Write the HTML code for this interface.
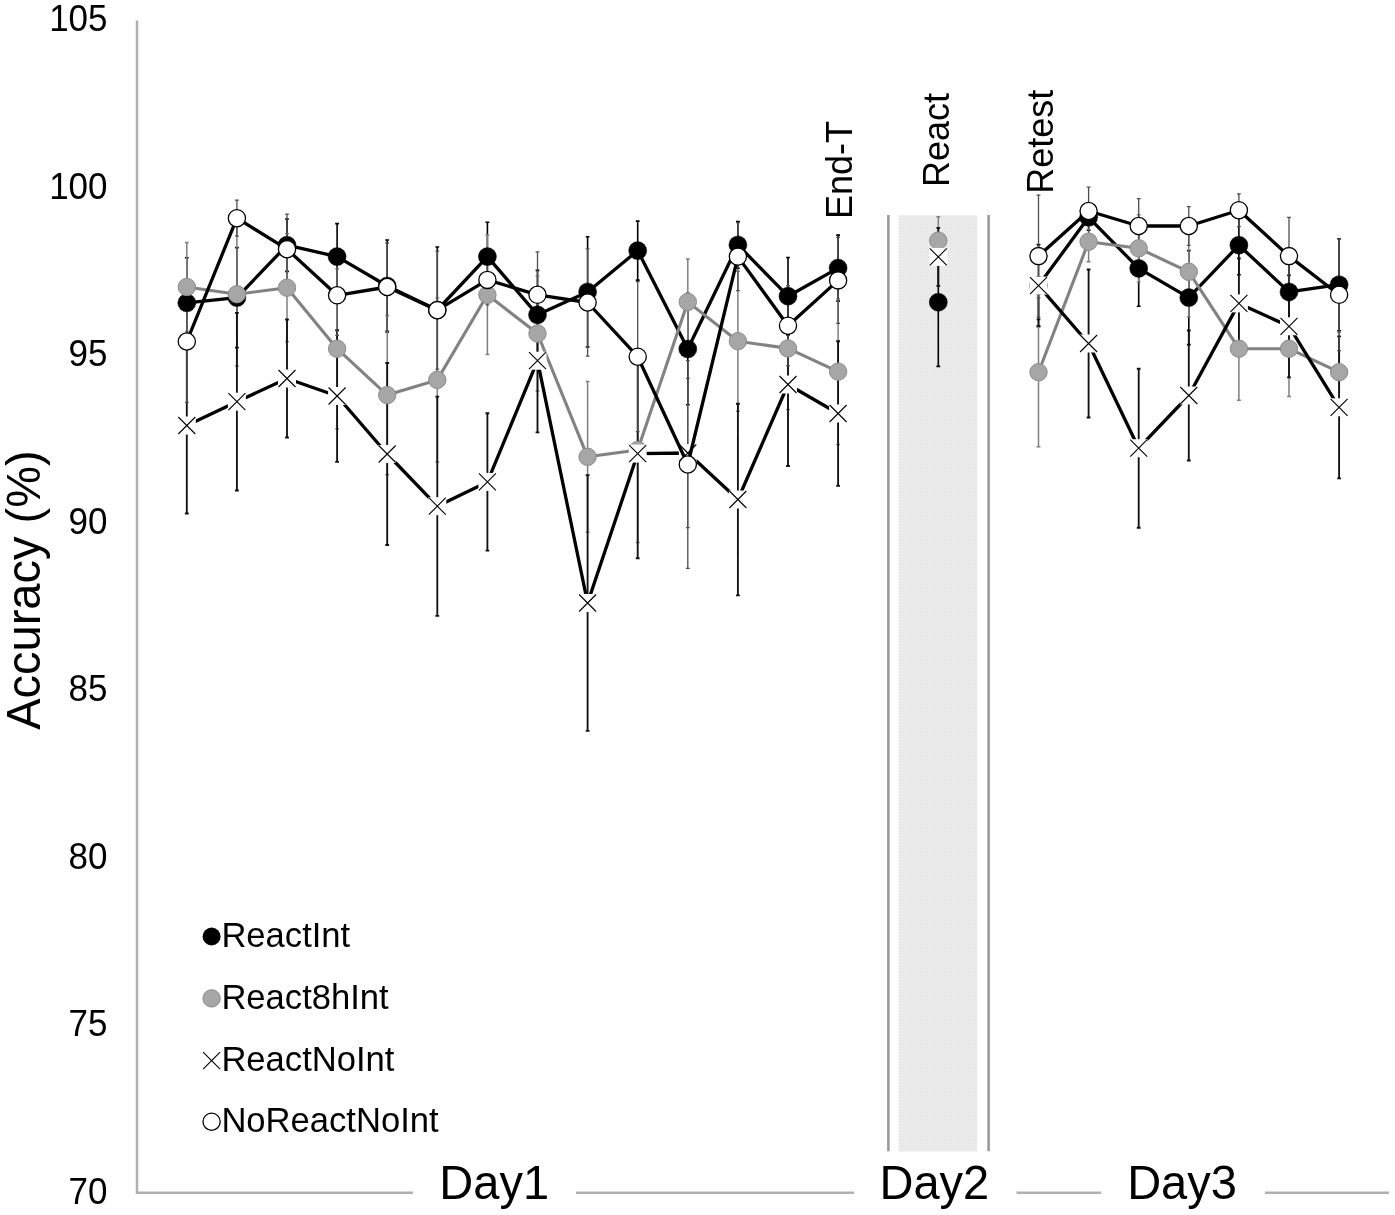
<!DOCTYPE html>
<html><head><meta charset="utf-8"><title>Accuracy chart</title>
<style>html,body{margin:0;padding:0;background:#fff}svg{display:block;filter:grayscale(1)}text{font-family:"Liberation Sans",sans-serif;fill:#000}</style>
</head><body>
<svg width="1395" height="1215" viewBox="0 0 1395 1215">
<defs><pattern id="hat" width="3" height="3" patternUnits="userSpaceOnUse"><rect width="3" height="3" fill="#efefef"/><path d="M0 3L3 0M0 0L3 3" stroke="#e3e3e3" stroke-width="0.7"/></pattern></defs>
<rect width="1395" height="1215" fill="#fff"/>
<path d="M137 20.4V1192.8" stroke="#b0b0b0" stroke-width="2.5" fill="none"/>
<path d="M135.8 1192.8H413M576 1192.8H854M1016.5 1192.8H1101.3M1265 1192.8H1389" stroke="#b0b0b0" stroke-width="2.5" fill="none"/>
<rect x="898.6" y="215.3" width="78.6" height="936.2" fill="url(#hat)"/>
<path d="M888.4 215V1151.3M988.6 215V1151.3" stroke="#9a9a9a" stroke-width="2.6" fill="none"/>
<text transform="translate(107.5 31.3) scale(1 1.04)" font-size="35" text-anchor="end">105</text>
<text transform="translate(107.5 198.8) scale(1 1.04)" font-size="35" text-anchor="end">100</text>
<text transform="translate(107.5 366.2) scale(1 1.04)" font-size="35" text-anchor="end">95</text>
<text transform="translate(107.5 533.7) scale(1 1.04)" font-size="35" text-anchor="end">90</text>
<text transform="translate(107.5 701.1) scale(1 1.04)" font-size="35" text-anchor="end">85</text>
<text transform="translate(107.5 868.6) scale(1 1.04)" font-size="35" text-anchor="end">80</text>
<text transform="translate(107.5 1036.0) scale(1 1.04)" font-size="35" text-anchor="end">75</text>
<text transform="translate(107.5 1203.5) scale(1 1.04)" font-size="35" text-anchor="end">70</text>
<text transform="translate(40.1 729.8) rotate(-90) scale(1 1.04)" font-size="47" text-anchor="start">Accuracy (%)</text>
<text transform="translate(851.9 219.0) rotate(-90) scale(1 1.04)" font-size="36" text-anchor="start">End-T</text>
<text transform="translate(948.7 187.0) rotate(-90) scale(1 1.04)" font-size="36" text-anchor="start">React</text>
<text transform="translate(1052.8 193.8) rotate(-90) scale(1 1.04)" font-size="36" text-anchor="start">Retest</text>
<text transform="translate(494.2 1198.6) scale(1 1.04)" font-size="47" text-anchor="middle">Day1</text>
<text transform="translate(934.4 1198.6) scale(1 1.04)" font-size="47" text-anchor="middle">Day2</text>
<text transform="translate(1182.0 1198.6) scale(1 1.04)" font-size="47" text-anchor="middle">Day3</text>
<path d="M186.8 257.8V347.8M184.9 257.8h3.8M184.9 347.8h3.8M236.9 247.6V347.6M235.0 247.6h3.8M235.0 347.6h3.8M287.0 219.0V271.4M285.1 219.0h3.8M285.1 271.4h3.8M337.1 223.6V289.6M335.2 223.6h3.8M335.2 289.6h3.8M387.2 240.0V332.0M385.3 240.0h3.8M385.3 332.0h3.8M437.3 247.0V373.0M435.4 247.0h3.8M435.4 373.0h3.8M487.4 222.2V291.0M485.5 222.2h3.8M485.5 291.0h3.8M537.5 270.4V359.2M535.6 270.4h3.8M535.6 359.2h3.8M587.6 236.8V347.0M585.7 236.8h3.8M585.7 347.0h3.8M637.7 221.1V280.1M635.8 221.1h3.8M635.8 280.1h3.8M687.8 293.3V404.7M685.9 293.3h3.8M685.9 404.7h3.8M737.9 221.6V268.2M736.0 221.6h3.8M736.0 268.2h3.8M788.0 257.5V334.9M786.1 257.5h3.8M786.1 334.9h3.8M838.1 235.1V301.1M836.2 235.1h3.8M836.2 301.1h3.8M938.3 238.0V366.4M936.4 238.0h3.8M936.4 366.4h3.8M1038.5 244.6V326.6M1036.6 244.6h3.8M1036.6 326.6h3.8M1088.6 204.3V230.3M1086.7 204.3h3.8M1086.7 230.3h3.8M1138.7 230.6V306.2M1136.8 230.6h3.8M1136.8 306.2h3.8M1188.8 250.6V344.6M1186.9 250.6h3.8M1186.9 344.6h3.8M1238.9 215.7V274.7M1237.0 215.7h3.8M1237.0 274.7h3.8M1289.0 256.9V326.9M1287.1 256.9h3.8M1287.1 326.9h3.8M1339.1 238.7V330.7M1337.2 238.7h3.8M1337.2 330.7h3.8" stroke="#000" stroke-width="1.6" fill="none"/>
<path d="M186.8 242.6V331.4M184.9 242.6h3.8M184.9 331.4h3.8M236.9 222.5V365.9M235.0 222.5h3.8M235.0 365.9h3.8M287.0 233.7V341.7M285.1 233.7h3.8M285.1 341.7h3.8M337.1 268.7V428.7M335.2 268.7h3.8M335.2 428.7h3.8M387.2 315.5V474.7M385.3 315.5h3.8M385.3 474.7h3.8M437.3 297.9V461.9M435.4 297.9h3.8M435.4 461.9h3.8M487.4 235.1V354.5M485.5 235.1h3.8M485.5 354.5h3.8M537.5 276.1V390.9M535.6 276.1h3.8M535.6 390.9h3.8M587.6 381.4V532.2M585.7 381.4h3.8M585.7 532.2h3.8M637.7 357.5V542.5M635.8 357.5h3.8M635.8 542.5h3.8M687.8 258.9V344.9M685.9 258.9h3.8M685.9 344.9h3.8M737.9 271.2V411.2M736.0 271.2h3.8M736.0 411.2h3.8M788.0 287.4V409.4M786.1 287.4h3.8M786.1 409.4h3.8M838.1 298.8V444.4M836.2 298.8h3.8M836.2 444.4h3.8M938.3 216.7V264.5M936.4 216.7h3.8M936.4 264.5h3.8M1038.5 297.7V446.7M1036.6 297.7h3.8M1036.6 446.7h3.8M1088.6 221.7V261.7M1086.7 221.7h3.8M1086.7 261.7h3.8M1138.7 214.7V281.9M1136.8 214.7h3.8M1136.8 281.9h3.8M1188.8 226.8V316.8M1186.9 226.8h3.8M1186.9 316.8h3.8M1238.9 297.1V400.3M1237.0 297.1h3.8M1237.0 400.3h3.8M1289.0 300.8V396.6M1287.1 300.8h3.8M1287.1 396.6h3.8M1339.1 332.2V412.2M1337.2 332.2h3.8M1337.2 412.2h3.8" stroke="#7f7f7f" stroke-width="1.5" fill="none"/>
<path d="M186.8 337.5V513.5M184.9 337.5h3.8M184.9 513.5h3.8M236.9 312.9V490.5M235.0 312.9h3.8M235.0 490.5h3.8M287.0 319.5V437.5M285.1 319.5h3.8M285.1 437.5h3.8M337.1 330.2V461.8M335.2 330.2h3.8M335.2 461.8h3.8M387.2 363.0V545.0M385.3 363.0h3.8M385.3 545.0h3.8M437.3 396.6V615.8M435.4 396.6h3.8M435.4 615.8h3.8M487.4 413.2V550.6M485.5 413.2h3.8M485.5 550.6h3.8M537.5 289.0V432.4M535.6 289.0h3.8M535.6 432.4h3.8M587.6 475.1V730.9M585.7 475.1h3.8M585.7 730.9h3.8M637.7 349.0V558.2M635.8 349.0h3.8M635.8 558.2h3.8M737.9 403.7V595.3M736.0 403.7h3.8M736.0 595.3h3.8M788.0 303.0V466.0M786.1 303.0h3.8M786.1 466.0h3.8M838.1 341.2V485.8M836.2 341.2h3.8M836.2 485.8h3.8M938.3 227.9V285.9M936.4 227.9h3.8M936.4 285.9h3.8M1038.5 277.6V293.6M1036.6 277.6h3.8M1036.6 293.6h3.8M1088.6 269.5V417.5M1086.7 269.5h3.8M1086.7 417.5h3.8M1138.7 368.7V527.7M1136.8 368.7h3.8M1136.8 527.7h3.8M1188.8 330.5V460.5M1186.9 330.5h3.8M1186.9 460.5h3.8M1238.9 258.4V348.4M1237.0 258.4h3.8M1237.0 348.4h3.8M1289.0 275.3V377.3M1287.1 275.3h3.8M1287.1 377.3h3.8M1339.1 336.3V478.3M1337.2 336.3h3.8M1337.2 478.3h3.8" stroke="#111" stroke-width="1.85" fill="none"/>
<path d="M687.8 378.4V527.6M685.9 378.4h3.8M685.9 527.6h3.8" stroke="#555" stroke-width="1.1" fill="none"/>
<path d="M1038.5 294V325.8M1036.6 319.6h3.8M1036.6 325.8h3.8" stroke="#111" stroke-width="1.5" fill="none"/>
<path d="M186.8 280.7V402.3M184.9 280.7h3.8M184.9 402.3h3.8M236.9 200.2V236.2M235.0 200.2h3.8M235.0 236.2h3.8M287.0 214.2V284.2M285.1 214.2h3.8M285.1 284.2h3.8M337.1 255.3V335.3M335.2 255.3h3.8M335.2 335.3h3.8M387.2 243.0V331.0M385.3 243.0h3.8M385.3 331.0h3.8M437.3 251.2V369.2M435.4 251.2h3.8M435.4 369.2h3.8M487.4 254.9V304.9M485.5 254.9h3.8M485.5 304.9h3.8M537.5 251.8V337.8M535.6 251.8h3.8M535.6 337.8h3.8M587.6 248.9V356.1M585.7 248.9h3.8M585.7 356.1h3.8M637.7 281.7V431.7M635.8 281.7h3.8M635.8 431.7h3.8M687.8 360.7V568.3M685.9 360.7h3.8M685.9 568.3h3.8M737.9 222.6V290.6M736.0 222.6h3.8M736.0 290.6h3.8M788.0 285.7V365.7M786.1 285.7h3.8M786.1 365.7h3.8M838.1 237.4V323.4M836.2 237.4h3.8M836.2 323.4h3.8M1038.5 195.1V317.1M1036.6 195.1h3.8M1036.6 317.1h3.8M1088.6 187.2V234.8M1086.7 187.2h3.8M1086.7 234.8h3.8M1138.7 198.7V253.3M1136.8 198.7h3.8M1136.8 253.3h3.8M1188.8 206.7V245.3M1186.9 206.7h3.8M1186.9 245.3h3.8M1238.9 193.8V226.6M1237.0 193.8h3.8M1237.0 226.6h3.8M1289.0 217.3V294.9M1287.1 217.3h3.8M1287.1 294.9h3.8M1339.1 238.9V350.7M1337.2 238.9h3.8M1337.2 350.7h3.8" stroke="#4e4e4e" stroke-width="1.3" fill="none"/>
<polyline points="186.8,302.8 236.9,297.6 287.0,245.2 337.1,256.6 387.2,286.0 437.3,310.0 487.4,256.6 537.5,314.8 587.6,291.9 637.7,250.6 687.8,349.0 737.9,244.9 788.0,296.2 838.1,268.1" fill="none" stroke="#000" stroke-width="3.3" stroke-linejoin="round"/><polyline points="1038.5,285.6 1088.6,217.3 1138.7,268.4 1188.8,297.6 1238.9,245.2 1289.0,291.9 1339.1,284.7" fill="none" stroke="#000" stroke-width="3.3" stroke-linejoin="round"/>
<circle cx="186.8" cy="302.8" r="9" fill="#000" stroke="#000" stroke-width="0.5"/><circle cx="236.9" cy="297.6" r="9" fill="#000" stroke="#000" stroke-width="0.5"/><circle cx="287.0" cy="245.2" r="9" fill="#000" stroke="#000" stroke-width="0.5"/><circle cx="337.1" cy="256.6" r="9" fill="#000" stroke="#000" stroke-width="0.5"/><circle cx="387.2" cy="286.0" r="9" fill="#000" stroke="#000" stroke-width="0.5"/><circle cx="437.3" cy="310.0" r="9" fill="#000" stroke="#000" stroke-width="0.5"/><circle cx="487.4" cy="256.6" r="9" fill="#000" stroke="#000" stroke-width="0.5"/><circle cx="537.5" cy="314.8" r="9" fill="#000" stroke="#000" stroke-width="0.5"/><circle cx="587.6" cy="291.9" r="9" fill="#000" stroke="#000" stroke-width="0.5"/><circle cx="637.7" cy="250.6" r="9" fill="#000" stroke="#000" stroke-width="0.5"/><circle cx="687.8" cy="349.0" r="9" fill="#000" stroke="#000" stroke-width="0.5"/><circle cx="737.9" cy="244.9" r="9" fill="#000" stroke="#000" stroke-width="0.5"/><circle cx="788.0" cy="296.2" r="9" fill="#000" stroke="#000" stroke-width="0.5"/><circle cx="838.1" cy="268.1" r="9" fill="#000" stroke="#000" stroke-width="0.5"/><circle cx="938.3" cy="302.2" r="9" fill="#000" stroke="#000" stroke-width="0.5"/><circle cx="1038.5" cy="285.6" r="9" fill="#000" stroke="#000" stroke-width="0.5"/><circle cx="1088.6" cy="217.3" r="9" fill="#000" stroke="#000" stroke-width="0.5"/><circle cx="1138.7" cy="268.4" r="9" fill="#000" stroke="#000" stroke-width="0.5"/><circle cx="1188.8" cy="297.6" r="9" fill="#000" stroke="#000" stroke-width="0.5"/><circle cx="1238.9" cy="245.2" r="9" fill="#000" stroke="#000" stroke-width="0.5"/><circle cx="1289.0" cy="291.9" r="9" fill="#000" stroke="#000" stroke-width="0.5"/><circle cx="1339.1" cy="284.7" r="9" fill="#000" stroke="#000" stroke-width="0.5"/>
<polyline points="186.8,287.0 236.9,294.2 287.0,287.7 337.1,348.7 387.2,395.1 437.3,379.9 487.4,294.8 537.5,333.5 587.6,456.8 637.7,450.0 687.8,301.9 737.9,341.2 788.0,348.4 838.1,371.6" fill="none" stroke="#828282" stroke-width="3.1" stroke-linejoin="round"/><polyline points="1038.5,372.2 1088.6,241.7 1138.7,248.3 1188.8,271.8 1238.9,348.7 1289.0,348.7 1339.1,372.2" fill="none" stroke="#828282" stroke-width="3.1" stroke-linejoin="round"/>
<circle cx="186.8" cy="287.0" r="8.7" fill="#a6a6a6" stroke="#8c8c8c" stroke-width="1"/><circle cx="236.9" cy="294.2" r="8.7" fill="#a6a6a6" stroke="#8c8c8c" stroke-width="1"/><circle cx="287.0" cy="287.7" r="8.7" fill="#a6a6a6" stroke="#8c8c8c" stroke-width="1"/><circle cx="337.1" cy="348.7" r="8.7" fill="#a6a6a6" stroke="#8c8c8c" stroke-width="1"/><circle cx="387.2" cy="395.1" r="8.7" fill="#a6a6a6" stroke="#8c8c8c" stroke-width="1"/><circle cx="437.3" cy="379.9" r="8.7" fill="#a6a6a6" stroke="#8c8c8c" stroke-width="1"/><circle cx="487.4" cy="294.8" r="8.7" fill="#a6a6a6" stroke="#8c8c8c" stroke-width="1"/><circle cx="537.5" cy="333.5" r="8.7" fill="#a6a6a6" stroke="#8c8c8c" stroke-width="1"/><circle cx="587.6" cy="456.8" r="8.7" fill="#a6a6a6" stroke="#8c8c8c" stroke-width="1"/><circle cx="637.7" cy="450.0" r="8.7" fill="#a6a6a6" stroke="#8c8c8c" stroke-width="1"/><circle cx="687.8" cy="301.9" r="8.7" fill="#a6a6a6" stroke="#8c8c8c" stroke-width="1"/><circle cx="737.9" cy="341.2" r="8.7" fill="#a6a6a6" stroke="#8c8c8c" stroke-width="1"/><circle cx="788.0" cy="348.4" r="8.7" fill="#a6a6a6" stroke="#8c8c8c" stroke-width="1"/><circle cx="838.1" cy="371.6" r="8.7" fill="#a6a6a6" stroke="#8c8c8c" stroke-width="1"/><circle cx="938.3" cy="240.6" r="8.7" fill="#a6a6a6" stroke="#8c8c8c" stroke-width="1"/><circle cx="1038.5" cy="372.2" r="8.7" fill="#a6a6a6" stroke="#8c8c8c" stroke-width="1"/><circle cx="1088.6" cy="241.7" r="8.7" fill="#a6a6a6" stroke="#8c8c8c" stroke-width="1"/><circle cx="1138.7" cy="248.3" r="8.7" fill="#a6a6a6" stroke="#8c8c8c" stroke-width="1"/><circle cx="1188.8" cy="271.8" r="8.7" fill="#a6a6a6" stroke="#8c8c8c" stroke-width="1"/><circle cx="1238.9" cy="348.7" r="8.7" fill="#a6a6a6" stroke="#8c8c8c" stroke-width="1"/><circle cx="1289.0" cy="348.7" r="8.7" fill="#a6a6a6" stroke="#8c8c8c" stroke-width="1"/><circle cx="1339.1" cy="372.2" r="8.7" fill="#a6a6a6" stroke="#8c8c8c" stroke-width="1"/>
<polyline points="186.8,425.5 236.9,401.7 287.0,378.5 337.1,396.0 387.2,454.0 437.3,506.2 487.4,481.9 537.5,360.7 587.6,603.0 637.7,453.6 687.8,453.0 737.9,499.5 788.0,384.5 838.1,413.5" fill="none" stroke="#000" stroke-width="3.3" stroke-linejoin="round"/><polyline points="1038.5,285.6 1088.6,343.5 1138.7,448.2 1188.8,395.5 1238.9,303.4 1289.0,326.3 1339.1,407.3" fill="none" stroke="#000" stroke-width="3.3" stroke-linejoin="round"/>
<rect x="177.8" y="416.5" width="18" height="18" fill="#fff"/><path d="M178.3 417.0l17.0 17.0M178.3 434.0l17.0 -17.0" stroke="#000" stroke-width="1.1" fill="none"/><rect x="227.9" y="392.7" width="18" height="18" fill="#fff"/><path d="M228.4 393.2l17.0 17.0M228.4 410.2l17.0 -17.0" stroke="#000" stroke-width="1.1" fill="none"/><rect x="278.0" y="369.5" width="18" height="18" fill="#fff"/><path d="M278.5 370.0l17.0 17.0M278.5 387.0l17.0 -17.0" stroke="#000" stroke-width="1.1" fill="none"/><rect x="328.1" y="387.0" width="18" height="18" fill="#fff"/><path d="M328.6 387.5l17.0 17.0M328.6 404.5l17.0 -17.0" stroke="#000" stroke-width="1.1" fill="none"/><rect x="378.2" y="445.0" width="18" height="18" fill="#fff"/><path d="M378.7 445.5l17.0 17.0M378.7 462.5l17.0 -17.0" stroke="#000" stroke-width="1.1" fill="none"/><rect x="428.3" y="497.2" width="18" height="18" fill="#fff"/><path d="M428.8 497.7l17.0 17.0M428.8 514.7l17.0 -17.0" stroke="#000" stroke-width="1.1" fill="none"/><rect x="478.4" y="472.9" width="18" height="18" fill="#fff"/><path d="M478.9 473.4l17.0 17.0M478.9 490.4l17.0 -17.0" stroke="#000" stroke-width="1.1" fill="none"/><rect x="528.5" y="351.7" width="18" height="18" fill="#fff"/><path d="M529.0 352.2l17.0 17.0M529.0 369.2l17.0 -17.0" stroke="#000" stroke-width="1.1" fill="none"/><rect x="578.6" y="594.0" width="18" height="18" fill="#fff"/><path d="M579.1 594.5l17.0 17.0M579.1 611.5l17.0 -17.0" stroke="#000" stroke-width="1.1" fill="none"/><rect x="628.7" y="444.6" width="18" height="18" fill="#fff"/><path d="M629.2 445.1l17.0 17.0M629.2 462.1l17.0 -17.0" stroke="#000" stroke-width="1.1" fill="none"/><rect x="678.8" y="444.0" width="18" height="18" fill="#fff"/><path d="M679.3 444.5l17.0 17.0M679.3 461.5l17.0 -17.0" stroke="#000" stroke-width="1.1" fill="none"/><rect x="728.9" y="490.5" width="18" height="18" fill="#fff"/><path d="M729.4 491.0l17.0 17.0M729.4 508.0l17.0 -17.0" stroke="#000" stroke-width="1.1" fill="none"/><rect x="779.0" y="375.5" width="18" height="18" fill="#fff"/><path d="M779.5 376.0l17.0 17.0M779.5 393.0l17.0 -17.0" stroke="#000" stroke-width="1.1" fill="none"/><rect x="829.1" y="404.5" width="18" height="18" fill="#fff"/><path d="M829.6 405.0l17.0 17.0M829.6 422.0l17.0 -17.0" stroke="#000" stroke-width="1.1" fill="none"/><rect x="929.3" y="247.9" width="18" height="18" fill="#fff"/><path d="M929.8 248.4l17.0 17.0M929.8 265.4l17.0 -17.0" stroke="#000" stroke-width="1.1" fill="none"/><rect x="1029.5" y="276.6" width="18" height="18" fill="#fff"/><path d="M1030.0 277.1l17.0 17.0M1030.0 294.1l17.0 -17.0" stroke="#000" stroke-width="1.1" fill="none"/><rect x="1079.6" y="334.5" width="18" height="18" fill="#fff"/><path d="M1080.1 335.0l17.0 17.0M1080.1 352.0l17.0 -17.0" stroke="#000" stroke-width="1.1" fill="none"/><rect x="1129.7" y="439.2" width="18" height="18" fill="#fff"/><path d="M1130.2 439.7l17.0 17.0M1130.2 456.7l17.0 -17.0" stroke="#000" stroke-width="1.1" fill="none"/><rect x="1179.8" y="386.5" width="18" height="18" fill="#fff"/><path d="M1180.3 387.0l17.0 17.0M1180.3 404.0l17.0 -17.0" stroke="#000" stroke-width="1.1" fill="none"/><rect x="1229.9" y="294.4" width="18" height="18" fill="#fff"/><path d="M1230.4 294.9l17.0 17.0M1230.4 311.9l17.0 -17.0" stroke="#000" stroke-width="1.1" fill="none"/><rect x="1280.0" y="317.3" width="18" height="18" fill="#fff"/><path d="M1280.5 317.8l17.0 17.0M1280.5 334.8l17.0 -17.0" stroke="#000" stroke-width="1.1" fill="none"/><rect x="1330.1" y="398.3" width="18" height="18" fill="#fff"/><path d="M1330.6 398.8l17.0 17.0M1330.6 415.8l17.0 -17.0" stroke="#000" stroke-width="1.1" fill="none"/>
<polyline points="186.8,341.5 236.9,218.2 287.0,249.2 337.1,295.3 387.2,287.0 437.3,310.2 487.4,279.9 537.5,294.8 587.6,302.5 637.7,356.7 687.8,464.5 737.9,256.6 788.0,325.7 838.1,280.4" fill="none" stroke="#000" stroke-width="3.3" stroke-linejoin="round"/><polyline points="1038.5,256.1 1088.6,211.0 1138.7,226.0 1188.8,226.0 1238.9,210.2 1289.0,256.1 1339.1,294.8" fill="none" stroke="#000" stroke-width="3.3" stroke-linejoin="round"/>
<circle cx="186.8" cy="341.5" r="8.6" fill="#fff" stroke="#000" stroke-width="1.3"/><circle cx="236.9" cy="218.2" r="8.6" fill="#fff" stroke="#000" stroke-width="1.3"/><circle cx="287.0" cy="249.2" r="8.6" fill="#fff" stroke="#000" stroke-width="1.3"/><circle cx="337.1" cy="295.3" r="8.6" fill="#fff" stroke="#000" stroke-width="1.3"/><circle cx="387.2" cy="287.0" r="8.6" fill="#fff" stroke="#000" stroke-width="1.3"/><circle cx="437.3" cy="310.2" r="8.6" fill="#fff" stroke="#000" stroke-width="1.3"/><circle cx="487.4" cy="279.9" r="8.6" fill="#fff" stroke="#000" stroke-width="1.3"/><circle cx="537.5" cy="294.8" r="8.6" fill="#fff" stroke="#000" stroke-width="1.3"/><circle cx="587.6" cy="302.5" r="8.6" fill="#fff" stroke="#000" stroke-width="1.3"/><circle cx="637.7" cy="356.7" r="8.6" fill="#fff" stroke="#000" stroke-width="1.3"/><circle cx="687.8" cy="464.5" r="8.6" fill="#fff" stroke="#000" stroke-width="1.3"/><circle cx="737.9" cy="256.6" r="8.6" fill="#fff" stroke="#000" stroke-width="1.3"/><circle cx="788.0" cy="325.7" r="8.6" fill="#fff" stroke="#000" stroke-width="1.3"/><circle cx="838.1" cy="280.4" r="8.6" fill="#fff" stroke="#000" stroke-width="1.3"/><circle cx="1038.5" cy="256.1" r="8.6" fill="#fff" stroke="#000" stroke-width="1.3"/><circle cx="1088.6" cy="211.0" r="8.6" fill="#fff" stroke="#000" stroke-width="1.3"/><circle cx="1138.7" cy="226.0" r="8.6" fill="#fff" stroke="#000" stroke-width="1.3"/><circle cx="1188.8" cy="226.0" r="8.6" fill="#fff" stroke="#000" stroke-width="1.3"/><circle cx="1238.9" cy="210.2" r="8.6" fill="#fff" stroke="#000" stroke-width="1.3"/><circle cx="1289.0" cy="256.1" r="8.6" fill="#fff" stroke="#000" stroke-width="1.3"/><circle cx="1339.1" cy="294.8" r="8.6" fill="#fff" stroke="#000" stroke-width="1.3"/>
<circle cx="211.6" cy="936.5" r="9" fill="#000"/>
<text transform="translate(221.4 947.0) scale(1 1.04)" font-size="34.6" text-anchor="start">ReactInt</text>
<circle cx="211.6" cy="998.4" r="8.7" fill="#a6a6a6" stroke="#8c8c8c" stroke-width="1"/>
<text transform="translate(221.4 1008.9) scale(1 1.04)" font-size="34.6" text-anchor="start">React8hInt</text>
<path d="M203.1 1052.1l17 17M203.1 1069.1l17 -17" stroke="#000" stroke-width="1.1" fill="none"/>
<text transform="translate(221.4 1071.1) scale(1 1.04)" font-size="34.6" text-anchor="start">ReactNoInt</text>
<circle cx="211.6" cy="1121.7" r="8.6" fill="#fff" stroke="#000" stroke-width="1.3"/>
<text transform="translate(221.4 1132.2) scale(1 1.04)" font-size="34.6" text-anchor="start">NoReactNoInt</text>
</svg>
</body></html>
